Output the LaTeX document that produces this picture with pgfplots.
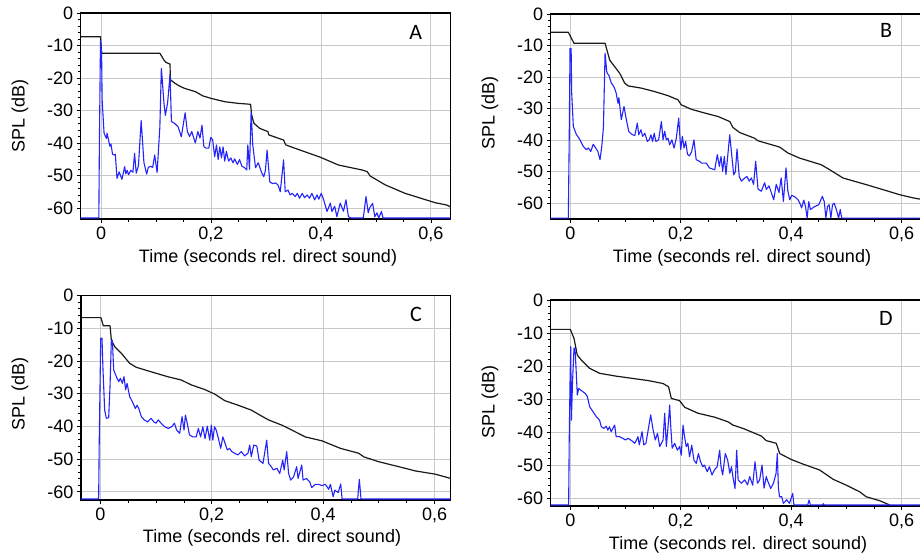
\documentclass[border=0pt]{standalone}
\usepackage{pgfplots}
\pgfplotsset{compat=1.18}
\usepackage{fontspec}
\setmainfont{Liberation Sans}
\newfontfamily\letterfont{Carlito}
\definecolor{gridgray}{RGB}{200,200,200}
\definecolor{irblue}{RGB}{35,35,250}
\definecolor{envblack}{RGB}{25,25,25}
\newcommand\tickfont{\fontsize{18bp}{21bp}\selectfont}
\pgfplotsset{
  panel/.style={
    scale only axis,
    axis line style={black, line width=1.4bp},
    grid=major,
    grid style={color=gridgray, line width=0.9bp},
    xtick={0,0.2,0.4,0.6},
    xticklabels={0,{0,2},{0,4},{0,6}},
    ytick={-60,-50,-40,-30,-20,-10,0},
    yticklabels={-60,-50,-40,-30,-20,-10,0},
    minor x tick num=3,
    minor y tick num=4,
    tick align=outside,
    tick pos=left,
    major tick length=4bp,
    minor tick length=3bp,
    tick style={black, line width=0.7bp},
    ticklabel style={font=\tickfont},
    ymax=0,
  },
  ir/.style={irblue, line width=1.1bp, line join=round},
  env/.style={envblack, line width=1.2bp, line join=round},
}
\begin{document}
\begin{tikzpicture}
\useasboundingbox (0,0) rectangle (920bp,-559bp);

% ---------------- Panel A ----------------
\begin{axis}[panel, at={(80.7bp,-13bp)}, anchor=north west,
  width=370bp, height=206bp, xmin=-0.037, xmax=0.636, ymin=-63.4]
\addplot[env] coordinates {
(-0.037,-7.3) (-0.001,-7.3) (0.001,-12.4) (0.107,-12.4) (0.111,-13.5) (0.1145,-14.5) (0.118,-15.2) (0.1255,-15.7) (0.126,-20.5) (0.134,-21.6) (0.143,-22.5) (0.152,-23.2) (0.1715,-24.2) (0.185,-25.5) (0.2006,-26.3) (0.225,-27.3) (0.249,-27.8) (0.272,-28.1) (0.274,-31.4) (0.278,-33.9) (0.2885,-35.5) (0.3036,-36.5) (0.305,-37.5) (0.332,-39.1) (0.336,-40.6) (0.3655,-42.4) (0.399,-44.4) (0.432,-46.8) (0.4745,-48.3) (0.484,-48.8) (0.4897,-50.2) (0.517,-52.9) (0.553,-55.5) (0.608,-58.4) (0.629,-59.1) (0.636,-59.7)
};
\addplot[ir] coordinates {
(-0.037,-63.1) (-0.004,-63.1) (-0.003,-40) (-0.001,-8.5) (0.001,-12) (0.002,-26.8) (0.0055,-37) (0.0097,-38.6) (0.011,-37) (0.016,-41) (0.018,-40.3) (0.021,-43.5) (0.024,-43.7) (0.026,-43.5) (0.029,-50.9) (0.033,-48.9) (0.038,-51.2) (0.043,-47.3) (0.045,-49.5) (0.0475,-48.4) (0.05,-49.8) (0.054,-48.4) (0.058,-49) (0.061,-43.2) (0.064,-49.3) (0.068,-47) (0.073,-33.1) (0.078,-46) (0.083,-49.6) (0.086,-47.5) (0.09,-47.2) (0.094,-47.5) (0.0976,-43.7) (0.102,-49.1) (0.107,-35) (0.1097,-17) (0.1145,-27.8) (0.117,-31.5) (0.121,-27.8) (0.1255,-19) (0.128,-33.4) (0.134,-34) (0.14,-35) (0.143,-36.5) (0.146,-38.1) (0.153,-30.7) (0.157,-36.5) (0.161,-38) (0.165,-36.5) (0.1715,-40) (0.176,-36.5) (0.18,-38.5) (0.1836,-34.5) (0.187,-41.1) (0.191,-41.6) (0.196,-41.6) (0.1995,-38.3) (0.203,-39) (0.2067,-44.2) (0.21,-40.6) (0.213,-45.1) (0.216,-41.2) (0.219,-44.6) (0.222,-41.2) (0.225,-45.6) (0.228,-42.6) (0.232,-45.6) (0.236,-44.6) (0.24,-46.1) (0.243,-44.9) (0.248,-46.6) (0.252,-45.1) (0.256,-47.1) (0.261,-47.6) (0.265,-48.3) (0.267,-40.6) (0.270,-48.1) (0.273,-30.4) (0.276,-40.6) (0.281,-47.6) (0.286,-46.1) (0.289,-47.6) (0.292,-49.1) (0.296,-50.4) (0.299,-48.5) (0.302,-42.2) (0.307,-52) (0.312,-52.5) (0.318,-52.3) (0.322,-53) (0.326,-55) (0.332,-45.2) (0.335,-55) (0.34,-54.5) (0.344,-56) (0.348,-55.5) (0.353,-56.5) (0.357,-55.5) (0.361,-57) (0.366,-55.5) (0.37,-56.8) (0.375,-56) (0.379,-57) (0.3836,-55.5) (0.3885,-57.5) (0.393,-56) (0.396,-57.3) (0.4006,-55.5) (0.405,-57.5) (0.411,-61.1) (0.417,-58.5) (0.42,-61.1) (0.425,-59.5) (0.429,-62.7) (0.435,-58.5) (0.441,-61) (0.4455,-57.5) (0.45,-62.7) (0.455,-63.1) (0.477,-63.1) (0.482,-56.5) (0.486,-61.5) (0.4885,-60) (0.494,-58.6) (0.498,-62.7) (0.502,-61.5) (0.505,-63.1) (0.51,-61.1) (0.513,-63.1) (0.636,-63.1)
};
\end{axis}

% ---------------- Panel B ----------------
\begin{axis}[panel, at={(550.7bp,-14bp)}, anchor=north west,
  width=372.9bp, height=205bp, xmin=-0.0355, xmax=0.64, ymin=-65]
\addplot[env] coordinates {
(-0.036,-5.8) (-0.0036,-5.8) (0.0067,-9.3) (0.063,-9.3) (0.0714,-14.6) (0.0804,-16.7) (0.0895,-18.8) (0.0985,-21.9) (0.1046,-22.8) (0.1286,-23.5) (0.1529,-24.6) (0.177,-25.9) (0.195,-27.2) (0.201,-28.8) (0.219,-30.2) (0.2435,-31.4) (0.2676,-32.5) (0.2888,-34.1) (0.2947,-36) (0.307,-37.6) (0.334,-39.4) (0.34,-40.2) (0.3793,-42.2) (0.3944,-44.1) (0.4155,-45.7) (0.4547,-47.8) (0.47,-49.4) (0.494,-52) (0.536,-54.1) (0.5665,-55.7) (0.5967,-57.3) (0.6208,-58.3) (0.64,-58.9)
};
\addplot[ir] coordinates {
(-0.036,-64.7) (-0.0036,-64.7) (-0.002,-40) (-0.0005,-10.9) (0.0015,-11) (0.0025,-25) (0.0055,-35.7) (0.011,-38.2) (0.0176,-39.9) (0.0236,-42) (0.029,-43) (0.033,-42.5) (0.037,-43.6) (0.0415,-41.3) (0.046,-42.5) (0.05,-43.6) (0.0538,-46.2) (0.057,-42) (0.06,-36) (0.063,-12.4) (0.066,-18.3) (0.067,-18.8) (0.07,-19.5) (0.0743,-21.9) (0.077,-22.5) (0.08,-23.5) (0.083,-25) (0.0864,-28.3) (0.088,-26.5) (0.0924,-33.5) (0.0973,-29.3) (0.101,-33) (0.1058,-37.2) (0.111,-38.1) (0.1167,-38.6) (0.1214,-34.6) (0.124,-38.3) (0.128,-36.7) (0.131,-38.8) (0.135,-37.8) (0.1395,-40.4) (0.143,-39.9) (0.146,-38.3) (0.149,-40.4) (0.152,-37.8) (0.155,-40.4) (0.16,-39.9) (0.165,-34.1) (0.168,-39.9) (0.171,-37.2) (0.174,-39.9) (0.177,-39.4) (0.18,-41.5) (0.184,-39.9) (0.188,-42.5) (0.192,-39.4) (0.1964,-33) (0.2,-43) (0.203,-38.8) (0.206,-42.5) (0.209,-40.4) (0.2123,-44.5) (0.216,-45) (0.22,-43.5) (0.224,-39.9) (0.228,-46.2) (0.234,-46.7) (0.238,-47.3) (0.2464,-47.3) (0.252,-48.8) (0.2616,-49.4) (0.2663,-44.6) (0.27,-48.3) (0.273,-45.2) (0.276,-49.9) (0.279,-45.2) (0.282,-50.9) (0.2888,-38.3) (0.292,-44) (0.296,-51) (0.299,-50) (0.302,-42.8) (0.306,-51.5) (0.31,-53) (0.316,-52) (0.32,-51.5) (0.324,-53) (0.328,-52) (0.332,-54) (0.3358,-46.7) (0.34,-55.5) (0.346,-56.2) (0.352,-53.5) (0.355,-55.6) (0.36,-54.5) (0.364,-56.6) (0.3685,-58.9) (0.373,-54) (0.378,-56.6) (0.382,-52) (0.386,-59.4) (0.3908,-48.8) (0.394,-56) (0.3975,-58.9) (0.401,-57.5) (0.407,-58) (0.413,-59) (0.417,-60.5) (0.419,-61.5) (0.423,-59) (0.426,-61) (0.429,-64.7) (0.432,-59.5) (0.435,-62) (0.443,-61) (0.45,-60.5) (0.4566,-57.8) (0.46,-59.5) (0.463,-64.7) (0.466,-61) (0.469,-60.5) (0.472,-64.7) (0.475,-60.5) (0.478,-60) (0.482,-62) (0.486,-64.7) (0.489,-62) (0.4916,-64.7) (0.64,-64.7)
};
\end{axis}

% ---------------- Panel C ----------------
\begin{axis}[panel, at={(81bp,-295.7bp)}, anchor=north west,
  width=369.7bp, height=204.3bp, xmin=-0.0347, xmax=0.629, ymin=-62.5]
\addplot[env] coordinates {
(-0.035,-6.7) (0.001,-6.7) (0.0054,-9.2) (0.0174,-9.2) (0.0198,-13.6) (0.0258,-15.6) (0.0377,-17.6) (0.0527,-20.7) (0.0646,-21.9) (0.0916,-23.3) (0.1215,-24.8) (0.1455,-25.8) (0.1634,-27.3) (0.1874,-28.7) (0.2054,-30.1) (0.2233,-32.1) (0.2472,-33.5) (0.2711,-35) (0.2862,-36.5) (0.302,-38) (0.326,-39.6) (0.338,-40.6) (0.368,-43.2) (0.398,-44.4) (0.431,-46.7) (0.464,-48.2) (0.473,-49.3) (0.5,-50.8) (0.5357,-52.3) (0.5655,-53.6) (0.6014,-54.6) (0.629,-55.9)
};
\addplot[ir] coordinates {
(-0.035,-62.2) (-0.003,-62.2) (-0.002,-45) (0.0007,-13) (0.003,-13) (0.0048,-22.7) (0.0078,-35) (0.0108,-37.5) (0.015,-37.3) (0.0174,-27.8) (0.0198,-13.6) (0.0216,-13.6) (0.024,-22.7) (0.0288,-24.8) (0.033,-26.3) (0.036,-25.3) (0.0395,-26.8) (0.0425,-24.8) (0.0455,-28.8) (0.048,-26.8) (0.0527,-30.9) (0.056,-31.9) (0.059,-33) (0.063,-34.5) (0.066,-33.5) (0.069,-34.5) (0.0736,-37) (0.079,-38) (0.085,-38.6) (0.091,-37.5) (0.096,-38.6) (0.1,-39) (0.104,-38) (0.109,-39) (0.1156,-40.1) (0.122,-40.6) (0.128,-40.1) (0.133,-39) (0.137,-41.1) (0.1425,-42.1) (0.1467,-37) (0.1503,-41.1) (0.1527,-36.5) (0.156,-39) (0.16,-42.6) (0.1664,-43.2) (0.172,-43.2) (0.176,-40.6) (0.18,-43.2) (0.184,-40.1) (0.188,-43.7) (0.192,-39.9) (0.1964,-44.2) (0.1993,-39.6) (0.202,-44.2) (0.205,-40.1) (0.208,-41.1) (0.212,-43.7) (0.2161,-46.7) (0.22,-43.2) (0.224,-45.2) (0.228,-47.2) (0.232,-46.7) (0.236,-47.7) (0.2413,-48.2) (0.247,-48.7) (0.253,-47.7) (0.259,-49) (0.265,-48.2) (0.2682,-45.7) (0.271,-49.2) (0.2755,-45.7) (0.281,-46) (0.285,-50.3) (0.292,-51.3) (0.2987,-44.2) (0.302,-51.3) (0.307,-52.3) (0.3106,-53.3) (0.317,-52.8) (0.322,-54.4) (0.3275,-50.3) (0.33,-53.3) (0.3346,-47.7) (0.338,-54.4) (0.3418,-56.4) (0.347,-55.4) (0.3525,-52.3) (0.355,-55.9) (0.3616,-51.8) (0.364,-56.4) (0.37,-55.9) (0.376,-57) (0.3795,-58.7) (0.386,-57.7) (0.392,-57.7) (0.398,-58.1) (0.404,-57.7) (0.41,-59.2) (0.413,-57.7) (0.416,-60) (0.418,-61.5) (0.421,-59.5) (0.427,-60.2) (0.4316,-57.6) (0.434,-62.2) (0.462,-62.2) (0.465,-56.2) (0.468,-62.2) (0.629,-62.2)
};
\end{axis}

% ---------------- Panel D ----------------
\begin{axis}[panel, at={(550.7bp,-300bp)}, anchor=north west,
  width=372.9bp, height=206bp, xmin=-0.0355, xmax=0.64, ymin=-62.4]
\addplot[env] coordinates {
(-0.036,-8.9) (0,-8.9) (0.0067,-11.6) (0.0109,-15.2) (0.0127,-16.7) (0.02,-18.2) (0.035,-20.7) (0.0532,-22.2) (0.0804,-23) (0.1105,-23.7) (0.1408,-24.4) (0.168,-25.3) (0.178,-26.3) (0.183,-29.8) (0.198,-30.5) (0.2072,-32.5) (0.2313,-34.3) (0.2616,-35.5) (0.2857,-36.9) (0.2947,-37.9) (0.3129,-38.9) (0.346,-41.2) (0.355,-42.6) (0.373,-43.4) (0.3793,-46.5) (0.4,-48.3) (0.4216,-49.7) (0.4518,-51.5) (0.476,-54.3) (0.5,-56.1) (0.5243,-58.1) (0.536,-59.6) (0.5605,-60.8) (0.5786,-62.1)
};
\addplot[ir] coordinates {
(-0.036,-62.1) (-0.003,-62.1) (-0.002,-43) (-0.0005,-25) (0.0007,-14.1) (0.002,-36.4) (0.004,-25) (0.0067,-14.6) (0.0085,-14.6) (0.0105,-21) (0.0127,-28.8) (0.0152,-26.8) (0.019,-27.3) (0.023,-27.8) (0.027,-28.3) (0.031,-29.3) (0.035,-32.3) (0.041,-33.8) (0.047,-35.3) (0.053,-36.4) (0.0562,-38.4) (0.061,-38.9) (0.065,-38.2) (0.068,-39.4) (0.071,-38.4) (0.074,-39.9) (0.0804,-37.9) (0.083,-41.4) (0.089,-41.4) (0.095,-41.9) (0.1,-42.4) (0.105,-41.9) (0.111,-42.6) (0.1167,-43.4) (0.12,-42.4) (0.1226,-41.4) (0.125,-43.9) (0.13,-39.9) (0.133,-43.9) (0.137,-43.4) (0.141,-39.4) (0.1456,-34.8) (0.15,-39.4) (0.154,-42.4) (0.158,-40.4) (0.162,-44.4) (0.168,-42.4) (0.171,-34.3) (0.174,-44.4) (0.178,-36.4) (0.18,-31.8) (0.182,-38.4) (0.1845,-44.9) (0.189,-43.4) (0.194,-45.5) (0.198,-44.4) (0.201,-47) (0.2042,-37.9) (0.207,-41.4) (0.21,-44.4) (0.213,-43.4) (0.216,-47.5) (0.22,-44) (0.224,-48.5) (0.2283,-49.5) (0.232,-46.5) (0.236,-49) (0.24,-50.5) (0.243,-50) (0.248,-52) (0.252,-50.5) (0.2567,-53) (0.261,-51.5) (0.266,-50.5) (0.2706,-45.5) (0.273,-50.5) (0.276,-53) (0.2808,-46.5) (0.285,-48.5) (0.289,-52.5) (0.292,-50.5) (0.295,-54) (0.2984,-57.1) (0.3014,-45.5) (0.304,-54.5) (0.31,-55.5) (0.316,-54.5) (0.321,-56) (0.325,-53.5) (0.3304,-56.1) (0.3346,-49) (0.339,-55.5) (0.343,-54.5) (0.3473,-50) (0.351,-57) (0.355,-53.5) (0.358,-55) (0.363,-57.1) (0.368,-55.5) (0.3727,-52.5) (0.375,-46.5) (0.377,-57) (0.379,-59.6) (0.383,-59.6) (0.386,-61.6) (0.392,-60.5) (0.397,-61.6) (0.4029,-58.6) (0.405,-62.1) (0.43,-62.1) (0.4324,-60.6) (0.435,-62.1) (0.457,-62.1) (0.4584,-61.7) (0.46,-62.1) (0.64,-62.1)
};
\end{axis}

% ---------------- labels ----------------
\begin{scope}[font=\tickfont]
\node[rotate=90] at (20bp,-116bp) {SPL (dB)};
\node[rotate=90] at (490bp,-113bp) {SPL (dB)};
\node[rotate=90] at (20bp,-394bp) {SPL (dB)};
\node[rotate=90] at (490bp,-402bp) {SPL (dB)};
\node at (268bp,-258bp) {Time (seconds rel. direct sound)};
\node at (742bp,-258bp) {Time (seconds rel. direct sound)};
\node at (272bp,-538bp) {Time (seconds rel. direct sound)};
\node at (738bp,-545bp) {Time (seconds rel. direct sound)};
\end{scope}
\begin{scope}[font=\letterfont\fontsize{22bp}{24bp}\selectfont]
\node at (415.7bp,-32bp) {A};
\node at (886bp,-30bp) {B};
\node at (416bp,-314bp) {C};
\node at (886bp,-318.7bp) {D};
\end{scope}
\end{tikzpicture}
\end{document}
